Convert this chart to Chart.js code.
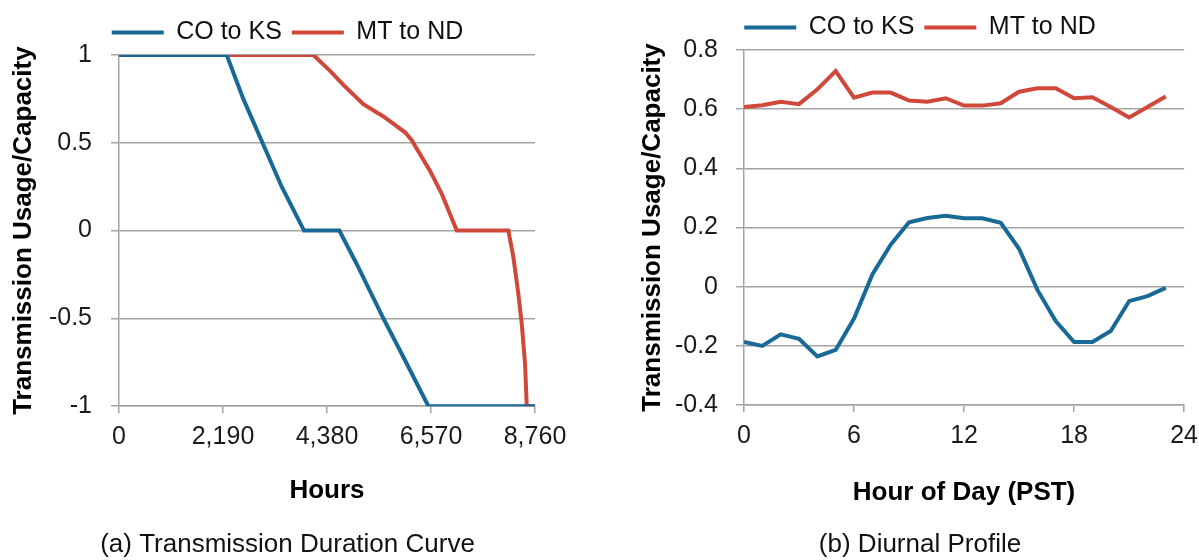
<!DOCTYPE html>
<html>
<head>
<meta charset="utf-8">
<script src="https://cdn.jsdelivr.net/npm/chart.js@4.4.0/dist/chart.umd.min.js"></script>
<style>
  body { margin: 0; background: #fff; overflow: hidden; }
  #graficoA { position: absolute; left: 0; top: 0; }
  #graficoB { position: absolute; left: 600px; top: 0; }
</style>
</head>
<body>
<canvas id="graficoA" width="600" height="560"></canvas>
<canvas id="graficoB" width="607" height="560"></canvas>
<script>
// (a) duration curve, hours sorted by usage
const horasCO = [0, 2268, 2618, 3005, 3426, 3896, 4640, 5005, 5567, 5988, 6515, 8760];
const usoCO   = [1, 1, 0.75, 0.51, 0.25, 0, 0, -0.19, -0.5, -0.72, -1, -1];
const horasMT = [0, 4093, 4444, 4724, 5145, 5567, 6023, 6164, 6550, 6796, 7112, 8199, 8304, 8409, 8481, 8551, 8586, 8760];
const usoMT   = [1, 1, 0.91, 0.83, 0.72, 0.65, 0.56, 0.515, 0.34, 0.21, 0, 0, -0.15, -0.36, -0.53, -0.76, -1, -1];

// (b) diurnal profile
const horaDia = [0, 1, 2, 3, 4, 5, 6, 7, 8, 9, 10, 11, 12, 13, 14, 15, 16, 17, 18, 19, 20, 21, 22, 23];
const diaCO = [-0.187, -0.2, -0.161, -0.176, -0.236, -0.214, -0.108, 0.041, 0.142, 0.218, 0.232, 0.24,
               0.231, 0.231, 0.216, 0.128, -0.011, -0.116, -0.187, -0.187, -0.15, -0.049, -0.032, -0.004];
const diaMT = [0.607, 0.613, 0.625, 0.617, 0.667, 0.729, 0.639, 0.656, 0.656, 0.629, 0.625, 0.637,
               0.612, 0.612, 0.62, 0.659, 0.671, 0.671, 0.637, 0.64, 0.607, 0.572, 0.607, 0.643];

const series = ['CO to KS', 'MT to ND'];
const ticksHoras = [0, 2190, 4380, 6570, 8760];
const ticksDia = [0, 6, 12, 18, 24];

const azul = '#196996';
const rojo = '#d0483a';
const gris = '#a4a4a4';
const fuente = '"Liberation Sans", Arial, sans-serif';

function puntos(xs, ys) {
  let out = [];
  for (var i = 0; i < xs.length; i++) {
    out.push({ x: xs[i], y: ys[i] });
  }
  return out;
}

function opciones(cfg) {
  return {
    responsive: false,
    animation: false,
    layout: { padding: { top: cfg.top, left: cfg.left, right: cfg.right, bottom: 0 } },
    plugins: {
      legend: {
        position: 'top',
        labels: {
          usePointStyle: true,
          pointStyle: 'line',
          pointStyleWidth: 52,
          padding: 10,
          color: '#111',
          font: { family: fuente, size: 25 }
        }
      },
      title: {
        display: true,
        position: 'bottom',
        text: cfg.caption,
        color: '#111',
        padding: 0,
        font: { family: fuente, size: 26, weight: 'normal' }
      },
      tooltip: { enabled: false }
    },
    scales: {
      x: {
        type: 'linear',
        min: cfg.xMin, max: cfg.xMax,
        afterBuildTicks: function (s) { s.ticks = cfg.xTicks.map(v => ({ value: v })); },
        ticks: { padding: 9, color: '#1a1a1a', font: { family: fuente, size: 25 } },
        grid: { drawOnChartArea: false, drawTicks: true, tickLength: 7, color: gris, lineWidth: 1.5 },
        border: { display: true, color: gris, width: 1.5 },
        title: {
          display: true, text: cfg.xTitle, color: '#000',
          padding: { top: 0, bottom: cfg.xTitlePad },
          font: { family: fuente, size: 26, weight: 'bold' }
        },
        afterFit: function (s) { s.height = cfg.xHeight; }
      },
      y: {
        min: cfg.yMin, max: cfg.yMax,
        ticks: {
          stepSize: cfg.yStep, padding: cfg.yPad, color: '#1a1a1a',
          font: { family: fuente, size: 25 },
          callback: function (v) { return String(+v.toFixed(2)); }
        },
        grid: { color: gris, lineWidth: 1.5, tickLength: 8 },
        border: { display: true, color: gris, width: 1.5 },
        title: {
          display: true, text: 'Transmission Usage/Capacity', color: '#000',
          padding: { top: cfg.yTitlePad, bottom: 0 },
          font: { family: fuente, size: 26, weight: 'bold' }
        },
        afterFit: function (s) { s.width = cfg.yWidth; }
      }
    }
  };
}

function linea(label, data, color) {
  return {
    label: label,
    data: data,
    borderColor: color,
    backgroundColor: color,
    borderWidth: 4,
    pointRadius: 0,
    tension: 0
  };
}

const ctxA = document.getElementById('graficoA');
new Chart(ctxA, {
  type: 'line',
  data: {
    datasets: [
      linea(series[0], puntos(horasCO, usoCO), azul),
      linea(series[1], puntos(horasMT, usoMT), rojo)
    ]
  },
  options: opciones({
    top: 10, left: 40, right: 65,
    caption: '(a) Transmission Duration Curve',
    xMin: 0, xMax: 8760, xTicks: ticksHoras, xTitle: 'Hours', xTitlePad: 22.6, xHeight: 122.6,
    yMin: -1, yMax: 1, yStep: 0.5, yPad: 19, yTitlePad: -32, yWidth: 79
  })
});

const ctxB = document.getElementById('graficoB');
new Chart(ctxB, {
  type: 'line',
  data: {
    datasets: [
      linea(series[0], puntos(horaDia, diaCO), azul),
      linea(series[1], puntos(horaDia, diaMT), rojo)
    ]
  },
  options: opciones({
    top: 5, left: 33, right: 0,
    caption: '(b) Diurnal Profile',
    xMin: 0, xMax: 24, xTicks: ticksDia, xTitle: 'Hour of Day (PST)', xTitlePad: 20.2, xHeight: 123.8,
    yMin: -0.4, yMax: 0.8, yStep: 0.2, yPad: 18, yTitlePad: 4, yWidth: 111
  })
});
</script>
</body>
</html>
